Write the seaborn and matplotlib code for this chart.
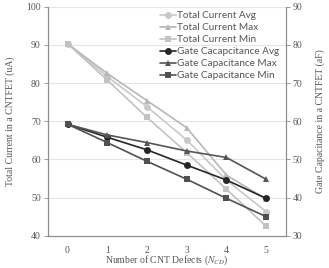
import matplotlib
matplotlib.use("Agg")
import matplotlib.pyplot as plt
import seaborn as sns
import pandas as pd

defects = [0, 1, 2, 3, 4, 5]
current_avg = [90.3, 81.7, 73.8, 65.1, 54.6, 46.3]
current_max = [90.3, 82.5, 75.4, 68.3, 55.9, 49.6]
current_min = [90.3, 80.8, 71.0, 61.8, 52.2, 42.5]
cap_avg = [59.2, 55.8, 52.5, 48.5, 44.6, 39.8]
cap_max = [59.2, 56.4, 54.4, 52.2, 50.5, 44.8]
cap_min = [59.2, 54.4, 49.5, 44.8, 39.8, 35.0]

left_ticks = [40, 50, 60, 70, 80, 90, 100]
right_ticks = [30, 40, 50, 60, 70, 80, 90]

sns.set_theme(style="white")
plt.rcParams["font.family"] = ["Liberation Serif", "DejaVu Serif"]
plt.rcParams["mathtext.fontset"] = "stix"

fig = plt.figure(figsize=(3.29, 2.68), dpi=100)
ax = fig.add_axes([0.145, 0.1205, 0.724, 0.8545])
ax2 = ax.twinx()

cur_df = pd.DataFrame({"x": defects * 3,
                       "y": current_avg + current_max + current_min,
                       "s": ["Total Current Avg"] * 6 + ["Total Current Max"] * 6 + ["Total Current Min"] * 6})
cap_df = pd.DataFrame({"x": defects * 3,
                       "y": cap_avg + cap_max + cap_min,
                       "s": ["Gate Cacapcitance Avg"] * 6 + ["Gate Capacitance Max"] * 6 + ["Gate Capacitance Min"] * 6})

cur_pal = {"Total Current Avg": "#c9c9c9", "Total Current Max": "#b7b7b7", "Total Current Min": "#c2c2c2"}
cap_pal = {"Gate Cacapcitance Avg": "#262626", "Gate Capacitance Max": "#555555", "Gate Capacitance Min": "#505050"}
cur_mk = {"Total Current Avg": "o", "Total Current Max": "^", "Total Current Min": "s"}
cap_mk = {"Gate Cacapcitance Avg": "o", "Gate Capacitance Max": "^", "Gate Capacitance Min": "s"}

sns.lineplot(data=cur_df, x="x", y="y", hue="s", style="s", palette=cur_pal,
             markers=cur_mk, dashes=False, markersize=5, linewidth=1.2,
             markeredgewidth=0, ax=ax, legend=False)
sns.lineplot(data=cap_df, x="x", y="y", hue="s", style="s", palette=cap_pal,
             markers=cap_mk, dashes=False, markersize=5, linewidth=1.2,
             markeredgewidth=0, ax=ax2, legend=False)

ax.set_xlim(-0.5, 5.5)
ax.set_ylim(40, 100)
ax2.set_ylim(30, 90)
ax.set_yticks(left_ticks)
ax2.set_yticks(right_ticks)
ax.set_xticks(defects)
ax.yaxis.grid(True, color="#e6e6e6", linewidth=0.8)
ax.set_axisbelow(True)

tc = "#555555"
for a in (ax, ax2):
    a.spines["top"].set_visible(False)
    for side in ("left", "right", "bottom"):
        a.spines[side].set_color("#8c8c8c")
        a.spines[side].set_linewidth(0.8)
ax.tick_params(axis="y", which="both", left=True, length=3, width=0.6, color="#8c8c8c",
               labelsize=7, labelcolor=tc, pad=2)
ax.tick_params(axis="x", bottom=False, labelsize=7, labelcolor=tc, pad=1.5)
ax2.tick_params(axis="y", right=True, length=3, width=0.6, color="#8c8c8c",
                labelsize=7, labelcolor=tc, pad=2)

ax.set_xlabel("Number of CNT Defects ($N_{CD}$)", fontsize=7, color=tc, va="bottom")
ax.xaxis.set_label_coords(0.5, -0.138)
ax.set_ylabel("Total Current in a CNTFET (uA)", fontsize=7, color=tc, labelpad=8)
ax2.set_ylabel("Gate Capacitance in a CNTFET (aF)", fontsize=7, color=tc, labelpad=9)

handles = []
labels = []
for lbl, line in zip(["Total Current Avg", "Total Current Max", "Total Current Min"], ax.get_lines()):
    handles.append(line); labels.append(lbl)
for lbl, line in zip(["Gate Cacapcitance Avg", "Gate Capacitance Max", "Gate Capacitance Min"], ax2.get_lines()):
    handles.append(line); labels.append(lbl)
leg = ax2.legend(handles, labels, loc="upper right", bbox_to_anchor=(1.0, 1.01),
                 frameon=False, handlelength=1.6, handletextpad=0.1,
                 labelspacing=0.3, borderaxespad=0.3,
                 prop={"family": ["Lato", "DejaVu Sans"], "size": 7.2})
for t in leg.get_texts():
    t.set_color(tc)

fig.savefig("out.png", dpi=100)
